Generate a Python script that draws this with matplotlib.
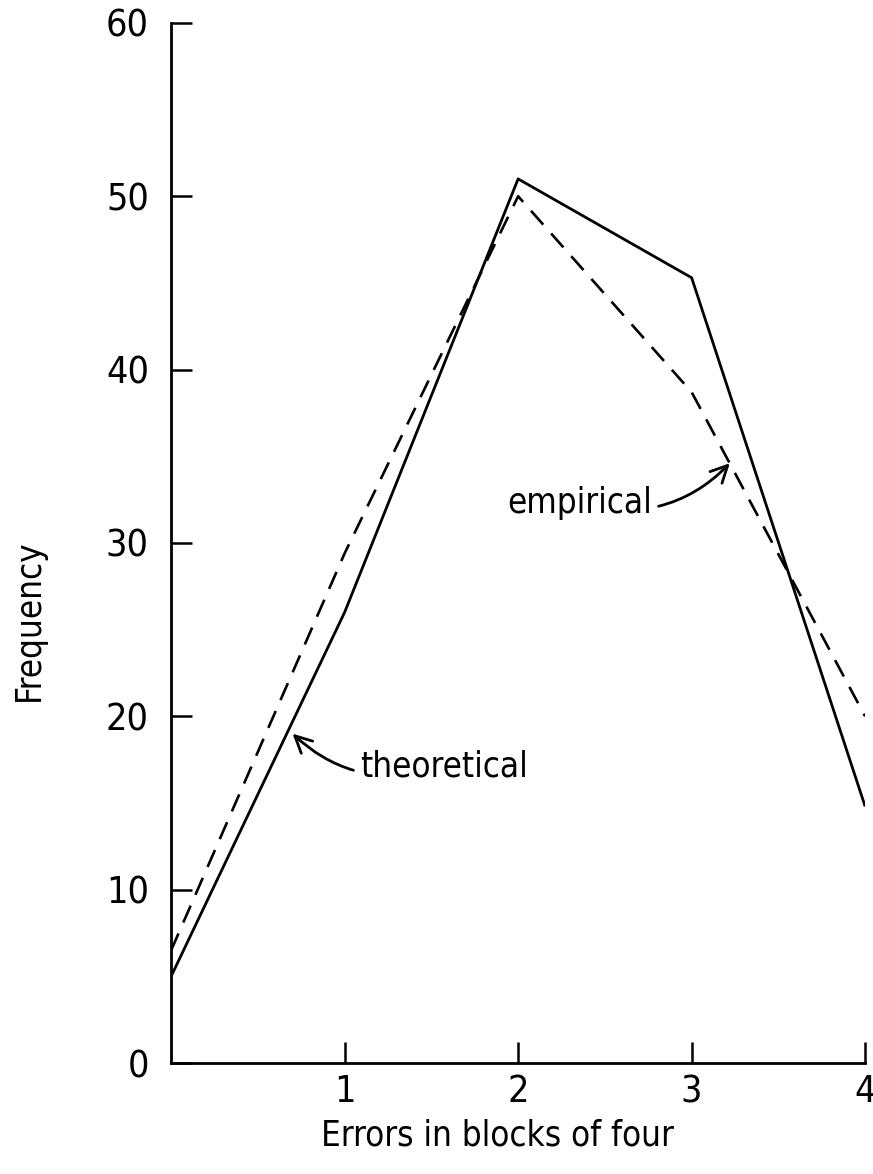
import matplotlib
matplotlib.use("Agg")
import matplotlib.pyplot as plt

# values
errors = [0, 1, 2, 3, 4]
theoretical = [5.0, 26.0, 51.0, 45.3, 14.8]
empirical = [6.5, 29.4, 50.0, 38.7, 20.0]
x_ticks = [1, 2, 3, 4]
y_ticks = [0, 10, 20, 30, 40, 50, 60]

plt.rcParams['font.family'] = ['DejaVu Sans']
plt.rcParams['font.stretch'] = 'condensed'

fig = plt.figure(figsize=(8.73, 11.74), dpi=100)
ax = fig.add_axes([0.196, 0.0945, 0.795, 0.886])

ax.plot(errors, theoretical, color='black', lw=2.0, solid_capstyle='butt')
ax.plot(errors, empirical, color='black', lw=1.9, dashes=(7, 4.5))

ax.set_xlim(0, 4)
ax.set_ylim(0, 60)
ax.set_xticks(x_ticks)
ax.set_yticks(y_ticks)

for side in ['top', 'right']:
    ax.spines[side].set_visible(False)
for side in ['left', 'bottom']:
    ax.spines[side].set_linewidth(2.0)

ax.tick_params(axis='both', direction='in', length=15, width=1.8,
               labelsize=27, pad=16)
ax.tick_params(axis='x', pad=8)

ax.set_xlabel('Errors in blocks of four', fontsize=25)
ax.xaxis.set_label_coords(0.47, -0.053)
ax.set_ylabel('Frequency', fontsize=25)
ax.yaxis.set_label_coords(-0.18, 0.426)

ax.annotate('empirical', xy=(3.22, 34.6), xytext=(2.77, 32.3),
            fontsize=25, ha='right', va='center',
            arrowprops=dict(arrowstyle='->', lw=2.0, color='black',
                            shrinkA=3, shrinkB=0, mutation_scale=30,
                            connectionstyle='arc3,rad=0.3'))
ax.annotate('theoretical', xy=(0.70, 19.0), xytext=(1.09, 17.1),
            fontsize=25, ha='left', va='center',
            arrowprops=dict(arrowstyle='->', lw=2.0, color='black',
                            shrinkA=3, shrinkB=0, mutation_scale=30,
                            connectionstyle='arc3,rad=-0.3'))

fig.savefig('out.png', dpi=100)
